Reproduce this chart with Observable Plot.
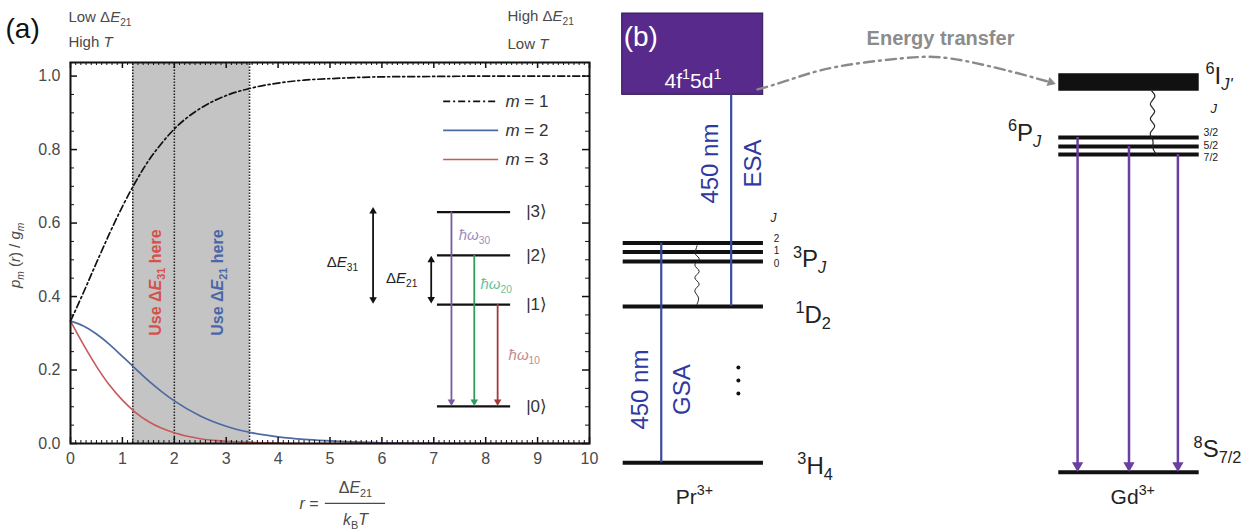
<!DOCTYPE html>
<html><head><meta charset="utf-8">
<script src="https://cdn.jsdelivr.net/npm/d3@7"></script>
<script src="https://cdn.jsdelivr.net/npm/@observablehq/plot@0.6"></script>
<style>
body{margin:0;background:#fff;}
#fig{position:relative;width:1247px;height:531px;overflow:hidden;background:#fff;}
#a,#b{position:absolute;top:0;}
#a{left:0}
#b{left:620px}
</style></head><body>
<div id="fig"><div id="a"></div><div id="b"></div></div>
<script>
// ---------- Panel (a) data ----------
const rValues = [0, 0.25, 0.5, 0.75, 1, 1.25, 1.5, 1.75, 2, 2.5, 3, 3.5, 4, 4.5, 5, 6, 7, 8, 9, 10];
const pM1 = [0.333, 0.411, 0.492, 0.571, 0.645, 0.711, 0.769, 0.816, 0.856, 0.912, 0.947, 0.968, 0.981, 0.989, 0.993, 0.998, 0.999, 1.0, 1.0, 1.0];
const pM2 = [0.333, 0.320, 0.298, 0.270, 0.237, 0.204, 0.171, 0.142, 0.116, 0.075, 0.047, 0.029, 0.018, 0.011, 0.007, 0.002, 0.001, 0.0, 0.0, 0.0];
const pM3 = [0.333, 0.269, 0.210, 0.159, 0.118, 0.085, 0.060, 0.042, 0.029, 0.013, 0.006, 0.003, 0.001, 0.0, 0.0, 0.0, 0.0, 0.0, 0.0, 0.0];
const seriesLabels = ["*{m} = 1", "*{m} = 2", "*{m} = 3"];
const shadeBounds = [1.2, 2.0, 3.45];
const xTickValues = [0, 1, 2, 3, 4, 5, 6, 7, 8, 9, 10];
const yTickValues = [0, 0.2, 0.4, 0.6, 0.8, 1.0];
const insetKets = ["|0⟩", "|1⟩", "|2⟩", "|3⟩"];
const insetLevelE = [0.101, 0.378, 0.512, 0.630];
const insetTransitions = ["*{ħω}_{10}", "*{ħω}_{20}", "*{ħω}_{30}"];

// ---------- Panel (b) data ----------
const prLevelNames = ["^{3}H_{4}", "^{1}D_{2}", "^{3}P~{J}"];
const prLevelE = [0, 34.8, 44.8, 46.9, 48.9];      // 3H4, 1D2, 3P0, 3P1, 3P2
const prBandE = [81.9, 100];                          // 4f15d1 band
const gdLevelE = [-2.1, 68.6, 70.4, 72.4];           // 8S7/2, 6P7/2, 6P5/2, 6P3/2
const gdBandE = [82.7, 86.6];                         // 6I_J'
const pJ = ["0", "1", "2"];
const gdJ = ["7/2", "5/2", "3/2"];

// ---------- colours ----------
const C_BLUE = "#4d6aa3", C_RED = "#c8585a", C_GRAY = "#4a4a4a";
const C_PURPLE_BOX = "#582a8c", C_ABS = "#3a4a9c", C_EMIT = "#6a3fa0";

// ---------- rich text: ^{sup} _{sub} *{italic} ~{italic sub} ----------
function rich(svg) {
  svg.querySelectorAll("text").forEach(t => {
    const s = t.textContent;
    if (!/[\^_*~]\{/.test(s)) return;
    const fs = parseFloat(getComputedStyle(t).fontSize) || 14;
    while (t.firstChild) t.removeChild(t.firstChild);
    let shift = 0;
    const re = /([\^_*~])\{([^}]*)\}|([^\^_*~]+)|([\^_*~])/g;
    let m;
    while ((m = re.exec(s))) {
      const ts = document.createElementNS("http://www.w3.org/2000/svg", "tspan");
      let target = 0, size = null, italic = false, txt;
      if (m[1]) {
        txt = m[2];
        if (m[1] === "^") { target = -0.4 * fs; size = 0.68 * fs; }
        else if (m[1] === "_") { target = 0.25 * fs; size = 0.68 * fs; }
        else if (m[1] === "~") { target = 0.25 * fs; size = 0.68 * fs; italic = true; }
        else italic = true;
      } else txt = m[3] || m[4];
      const d = target - shift;
      if (d !== 0) ts.setAttribute("dy", d);
      shift = target;
      if (size) ts.setAttribute("font-size", size);
      if (italic) ts.setAttribute("font-style", "italic");
      ts.textContent = txt;
      t.appendChild(ts);
    }
  });
}

const FONT = "Liberation Sans, Arial, Helvetica, sans-serif";

// ================= Panel (a) =================
const W_A = 620, H = 531;
const mA = {left: 70, right: 31, top: 62, bottom: 88};
const innerW = W_A - mA.left - mA.right;
const innerH = H - mA.top - mA.bottom;
const Y_TOP = 1.037;

const seriesRows = [pM1, pM2, pM3].map((vals, k) => rValues.map((r, i) => ({r, p: vals[i], m: k + 1})));
const seriesStyle = [
  {stroke: "#111", strokeDasharray: "7,3,2,3", strokeWidth: 1.7},
  {stroke: C_BLUE, strokeWidth: 1.7},
  {stroke: C_RED, strokeWidth: 1.6}
];
const shades = d3.pairs(shadeBounds).map(([a, b]) => ({x1: a, x2: b}));
const minorX = d3.range(0, 100.5, 1).map(d => d / 10).filter(d => !xTickValues.includes(d));
const minorY = d3.range(0, 20.5, 1).map(d => d / 20).filter(d => !yTickValues.some(v => Math.abs(v - d) < 1e-9));

const legendRows = seriesLabels.map((t, i) => ({t, y: [0.931, 0.852, 0.773][i], i}));
const insetLevels = insetKets.map((k, i) => ({k, E: insetLevelE[i]}));
const insetArrows = insetTransitions.map((t, i) => ({t, x: [8.23, 7.78, 7.34][i], from: insetLevelE[i + 1], to: insetLevelE[0],
  color: ["#a33a3a", "#2f9a5e", "#7b5aa0"][i], tcolor: ["#c48a8c", "#6cbf9a", "#a08cc0"][i],
  tx: [8.44, 7.90, 7.48][i], ty: [0.240, 0.433, 0.566][i]}));
const doubleArrows = [
  {t: "Δ*{E}_{31}", x: 5.83, y1: 0.384, y2: 0.640, tx: 5.24, ty: 0.493},
  {t: "Δ*{E}_{21}", x: 6.95, y1: 0.385, y2: 0.507, tx: 6.38, ty: 0.449}
];

const plotA = Plot.plot({
  width: W_A, height: H,
  marginLeft: mA.left, marginRight: mA.right, marginTop: mA.top, marginBottom: mA.bottom,
  x: {domain: [0, 10]},
  y: {domain: [0, Y_TOP]},
  style: {fontFamily: FONT, fontSize: "15px", background: "transparent", overflow: "visible"},
  marks: [
    Plot.rect(shades, {x1: "x1", x2: "x2", y1: 0, y2: Y_TOP, fill: "#c4c4c4"}),
    Plot.ruleX(shadeBounds, {x: d => d, y1: 0, y2: Y_TOP, stroke: "#222", strokeWidth: 1.6, strokeDasharray: "1.5,1.5"}),
    ...seriesRows.map((rows, k) => Plot.line(rows, {x: "r", y: "p", curve: "monotone-x", ...seriesStyle[k]})),
    Plot.frame({stroke: "#111", strokeWidth: 2}),
    // ticks (inward)
    Plot.tickX(minorX, {x: d => d, insetTop: innerH - 3, stroke: "#111"}),
    Plot.tickX(xTickValues, {x: d => d, insetTop: innerH - 6, stroke: "#111", strokeWidth: 1.5}),
    Plot.tickX(minorX, {x: d => d, insetBottom: innerH - 3, stroke: "#111"}),
    Plot.tickX(xTickValues, {x: d => d, insetBottom: innerH - 6, stroke: "#111", strokeWidth: 1.5}),
    Plot.tickY(minorY, {y: d => d, insetRight: innerW - 4, stroke: "#111"}),
    Plot.tickY(yTickValues, {y: d => d, insetRight: innerW - 7, stroke: "#111", strokeWidth: 1.5}),
    Plot.tickY(minorY, {y: d => d, insetLeft: innerW - 4, stroke: "#111"}),
    Plot.tickY(yTickValues, {y: d => d, insetLeft: innerW - 7, stroke: "#111", strokeWidth: 1.5}),
    Plot.axisX(xTickValues, {tickSize: 0, tickPadding: 9, color: C_GRAY, fontSize: 16}),
    Plot.axisY(yTickValues, {tickSize: 0, tickPadding: 10, color: C_GRAY, fontSize: 16, tickFormat: d3.format(".1f")}),
    // shaded region labels
    Plot.text(["Use Δ*{E}_{31} here"], {x: 1.64, y: 0.438, text: d => d, rotate: -90, fill: "#d6504c", fontWeight: "bold", fontSize: 16}),
    Plot.text(["Use Δ*{E}_{21} here"], {x: 2.83, y: 0.438, text: d => d, rotate: -90, fill: "#4a67a8", fontWeight: "bold", fontSize: 16}),
    // legend
    ...legendRows.map(d => Plot.ruleY([d.y], {y: v => v, x1: 7.19, x2: 8.25, ...seriesStyle[d.i]})),
    Plot.text(legendRows, {x: 8.38, y: "y", text: "t", textAnchor: "start", fontSize: 17, fill: "#333"}),
    // inset level diagram
    Plot.ruleY(insetLevels, {y: "E", x1: 7.07, x2: 8.48, stroke: "#111", strokeWidth: 2.2}),
    Plot.text(insetLevels, {x: 8.78, y: "E", text: "k", textAnchor: "start", fontSize: 17, fill: "#333"}),
    Plot.ruleX(insetArrows, {x: "x", y1: "from", y2: d => d.to + 0.012, stroke: "color", strokeWidth: 1.8}),
    Plot.dot(insetArrows, {x: "x", y: d => d.to + 0.013, symbol: "triangle", rotate: 180, r: 2.8, fill: "color"}),
    Plot.text(insetArrows, {x: "tx", y: "ty", text: "t", fill: "tcolor", textAnchor: "start", fontSize: 15}),
    Plot.ruleX(doubleArrows, {x: "x", y1: d => d.y1 + 0.01, y2: d => d.y2 - 0.01, stroke: "#111", strokeWidth: 1.8}),
    Plot.dot(doubleArrows, {x: "x", y: d => d.y2 - 0.008, symbol: "triangle", r: 2.8, fill: "#111"}),
    Plot.dot(doubleArrows, {x: "x", y: d => d.y1 + 0.008, symbol: "triangle", rotate: 180, r: 2.8, fill: "#111"}),
    Plot.text(doubleArrows, {x: "tx", y: "ty", text: "t", fontSize: 15, fill: "#222"}),
    // header texts
    Plot.text(["(a)"], {x: -1.252, y: 1.105, text: d => d, textAnchor: "start", lineAnchor: "bottom", fontSize: 28, fill: "#111"}),
    Plot.text(["Low Δ*{E}_{21}", "High *{T}"], {x: -0.04, y: [1.146, 1.078], text: d => d, textAnchor: "start", lineAnchor: "bottom", fontSize: 15, fill: C_GRAY}),
    Plot.text(["High Δ*{E}_{21}", "Low *{T}"], {x: 8.42, y: [1.149, 1.075], text: d => d, textAnchor: "start", lineAnchor: "bottom", fontSize: 15, fill: C_GRAY}),
    // axis titles
    Plot.text(["*{p}~{m} (*{r}) / *{g}~{m}"], {x: -1.06, y: 0.512, text: d => d, rotate: -90, fontSize: 15, fill: C_GRAY}),
    Plot.text(["*{r} ="], {x: 4.78, y: -0.163, text: d => d, textAnchor: "end", fontSize: 16, fill: C_GRAY}),
    Plot.ruleY([-0.163], {y: d => d, x1: 4.91, x2: 6.07, stroke: C_GRAY, strokeWidth: 1.2}),
    Plot.text(["Δ*{E}_{21}"], {x: 5.49, y: -0.12, text: d => d, fontSize: 16, fill: C_GRAY}),
    Plot.text(["*{k}_{B}*{T}"], {x: 5.49, y: -0.207, text: d => d, fontSize: 16, fill: C_GRAY})
  ]
});
document.getElementById("a").appendChild(plotA);
rich(plotA);

// ================= Panel (b) =================
const W_B = 627;
const PR_X = [0.43, 22.8], GD_X = [69.9, 92.3];
const absorptions = [
  {name: "GSA", x: 6.5, from: prLevelE[0], to: prLevelE[4], lx: 3.19, gx: 9.84, ly: 16.3},
  {name: "ESA", x: 17.65, from: prLevelE[1], to: prBandE[0], lx: 14.35, gx: 21.2, ly: 66.6}
];
const emissions = [
  {x: 72.9, from: gdLevelE[3]}, {x: 81.1, from: gdLevelE[2]}, {x: 88.9, from: gdLevelE[1]}
];
const wavyPr = [[12.2, 48.3], [12.0, 47.4], [12.0, 46.3], [12.55, 45.3], [11.85, 44.0], [12.55, 42.6], [11.85, 41.2], [12.55, 39.8], [11.85, 38.4], [12.4, 36.9], [12.2, 35.3]];
const wavyGd = [[84.75, 82.7], [85.2, 81.4], [84.5, 79.8], [85.2, 78.2], [84.5, 76.6], [85.2, 75.0], [84.5, 73.4], [84.9, 71.8], [84.9, 70.2], [85.3, 69.0], [85.6, 68.6]];
const transferPath = [[21.85, 83.1], [26.64, 85.1], [33.97, 88.0], [44.66, 90.0], [52.63, 90.0], [61.72, 87.3], [65.87, 85.75], [68.6, 84.7]];
const pjLabels = pJ.map((t, i) => ({t, E: [44.4, 47.1, 49.8][i]}));
const gdjLabels = gdJ.map((t, i) => ({t, E: [68.0, 70.7, 73.6][i]}));
const levelLabels = [
  {t: "^{3}P~{J}", x: 27.5, E: 43.5}, {t: "^{1}D_{2}", x: 27.9, E: 31.1}, {t: "^{3}H_{4}", x: 28.2, E: -2.45},
  {t: "^{6}I~{J'}", x: 93.3, E: 84.4}, {t: "^{6}P~{J}", x: 61.8, E: 71.7}, {t: "^{8}S_{7/2}", x: 91.4, E: 1.25}
];
const ionLabels = [{t: "Pr^{3+}", x: 11.8}, {t: "Gd^{3+}", x: 81.7}];

const plotB = Plot.plot({
  width: W_B, height: H,
  marginLeft: 0, marginRight: 0, marginTop: 0, marginBottom: 0,
  x: {domain: [0, 100], axis: null},
  y: {domain: [-15.29, 102.9], axis: null},
  style: {fontFamily: FONT, fontSize: "20px", background: "transparent", overflow: "visible"},
  marks: [
    // 4f5d band
    Plot.rect([prBandE], {x1: 0.27, x2: 22.76, y1: d => d[0], y2: d => d[1], fill: C_PURPLE_BOX, stroke: "#2e1450", strokeWidth: 1}),
    Plot.text(["(b)"], {x: 0.5, y: 92.7, text: d => d, fill: "#fff", textAnchor: "start", lineAnchor: "bottom", fontSize: 28}),
    Plot.text(["4f^{1}5d^{1}"], {x: 11.56, y: 83.5, text: d => d, fill: "#fff", lineAnchor: "bottom", fontSize: 21}),
    // Pr levels
    Plot.ruleY(prLevelE, {y: d => d, x1: PR_X[0], x2: PR_X[1], stroke: "#111", strokeWidth: 4}),
    // Gd levels
    Plot.ruleY(gdLevelE, {y: d => d, x1: GD_X[0], x2: GD_X[1], stroke: "#111", strokeWidth: 4}),
    Plot.rect([gdBandE], {x1: GD_X[0], x2: GD_X[1], y1: d => d[0], y2: d => d[1], fill: "#111"}),
    // absorption lines
    Plot.ruleX(absorptions, {x: "x", y1: "from", y2: "to", stroke: C_ABS, strokeWidth: 2.2}),
    Plot.text(absorptions, {x: "lx", y: "ly", text: () => "450 nm", rotate: -90, fill: "#2e3aa0", fontSize: 24}),
    Plot.text(absorptions, {x: "gx", y: "ly", text: "name", rotate: -90, fill: "#2e3aa0", fontSize: 24}),
    // nonradiative relaxations
    Plot.line(wavyPr, {x: d => d[0], y: d => d[1], curve: "natural", stroke: "#222", strokeWidth: 1}),
    Plot.line(wavyGd, {x: d => d[0], y: d => d[1], curve: "natural", stroke: "#222", strokeWidth: 1.2}),
    // dots
    Plot.dot([21.2, 18.3, 15.4], {x: 18.8, y: d => d, r: 2, fill: "#111"}),
    // emissions
    Plot.ruleX(emissions, {x: "x", y1: "from", y2: -0.8, stroke: C_EMIT, strokeWidth: 2.5}),
    Plot.dot(emissions, {x: "x", y: -0.6, symbol: "triangle", rotate: 180, r: 4.2, fill: C_EMIT}),
    // energy transfer
    Plot.line(transferPath, {x: d => d[0], y: d => d[1], curve: "natural", stroke: "#8a8a8a", strokeWidth: 2.4, strokeDasharray: "10,5,2,5"}),
    Plot.dot([transferPath[transferPath.length - 1]], {x: d => d[0], y: d => d[1], symbol: "triangle", rotate: 108, r: 3.5, fill: "#8a8a8a"}),
    Plot.text(["Energy transfer"], {x: 51.04, y: 94.4, text: d => d, fill: "#8c8c8c", fontWeight: "bold", fontSize: 20}),
    // labels
    Plot.text(["*{J}"], {x: 24.4, y: 53.7, text: d => d, fill: "#222", lineAnchor: "bottom", fontSize: 12}),
    Plot.text(pjLabels, {x: 24.9, y: "E", text: "t", fill: "#222", fontSize: 10}),
    Plot.text(["*{J}"], {x: 94.1, y: 77.9, text: d => d, fill: "#222", textAnchor: "start", lineAnchor: "bottom", fontSize: 13}),
    Plot.text(gdjLabels, {x: 93.0, y: "E", text: "t", fill: "#222", textAnchor: "start", fontSize: 10.5}),
    Plot.text(levelLabels, {x: "x", y: "E", text: "t", fill: "#222", textAnchor: "start", lineAnchor: "bottom", fontSize: 24}),
    Plot.text(ionLabels, {x: "x", y: -9.1, text: "t", fill: "#222", lineAnchor: "bottom", fontSize: 21})
  ]
});
document.getElementById("b").appendChild(plotB);
rich(plotB);
</script></body></html>
